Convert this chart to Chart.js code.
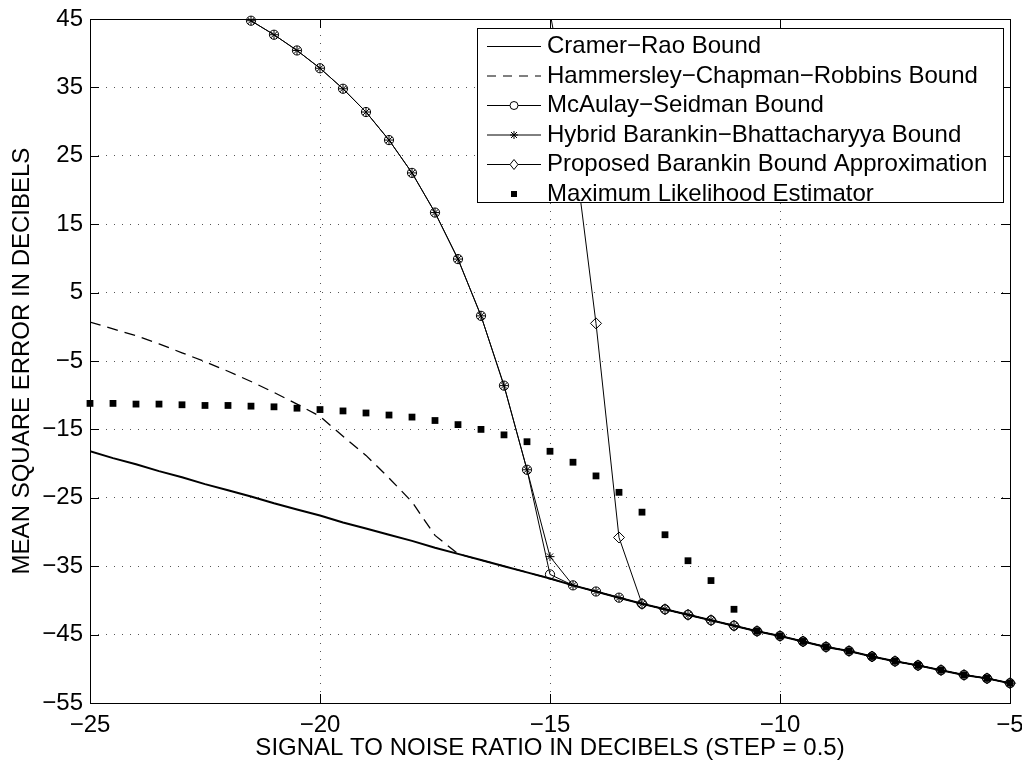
<!DOCTYPE html>
<html>
<head>
  <meta charset="utf-8">
  <title>Mean square error bounds</title>
  <script src="https://cdn.jsdelivr.net/npm/chart.js"></script>
  <style>
    body { margin: 0; background: #fff; }
  </style>
</head>
<body>
  <canvas id="chart" width="1022" height="767"></canvas>

  <script>
    // SNR in dB, step 0.5
    const snr = [-25, -24.5, -24, -23.5, -23, -22.5, -22, -21.5, -21, -20.5,
                 -20, -19.5, -19, -18.5, -18, -17.5, -17, -16.5, -16, -15.5,
                 -15, -14.5, -14, -13.5, -13, -12.5, -12, -11.5, -11, -10.5,
                 -10, -9.5, -9, -8.5, -8, -7.5, -7, -6.5, -6, -5.5, -5];

    const crb = [-18.2, -19.2, -20.1, -21.1, -22.0, -23.0, -23.9, -24.8, -25.8, -26.7,
                 -27.6, -28.6, -29.5, -30.4, -31.3, -32.3, -33.2, -34.1, -35.0, -35.9,
                 -36.8, -37.8, -38.7, -39.6, -40.5, -41.3, -42.1, -42.9, -43.7, -44.5,
                 -45.2, -46.0, -46.8, -47.4, -48.2, -48.9, -49.5, -50.2, -50.9, -51.4, -52.1];

    const hcrb = [0.7, -0.3, -1.3, -2.5, -3.8, -5.1, -6.5, -8.0, -9.6, -11.3,
                  -13.1, -16.0, -18.8, -22.1, -25.6, -30.5, -33.2, -34.1, -35.0, -35.9,
                  -36.8, -37.8, -38.7, -39.6, -40.5, -41.3, -42.1, -42.9, -43.7, -44.5,
                  -45.2, -46.0, -46.8, -47.4, -48.2, -48.9, -49.5, -50.2, -50.9, -51.4, -52.1];

    const msb = [null, null, null, null, null, null, null, 44.75, 42.7, 40.4,
                 37.8, 34.8, 31.4, 27.3, 22.5, 16.7, 9.9, 1.6, -8.6, -20.9,
                 -36.2, -37.8, -38.7, -39.6, -40.5, -41.3, -42.1, -42.9, -43.7, -44.5,
                 -45.2, -46.0, -46.8, -47.4, -48.2, -48.9, -49.5, -50.2, -50.9, -51.4, -52.1];

    const hbb = [null, null, null, null, null, null, null, 44.75, 42.7, 40.4,
                 37.8, 34.8, 31.4, 27.3, 22.5, 16.7, 9.9, 1.6, -8.6, -20.9,
                 -33.6, -37.8, -38.7, -39.6, -40.5, -41.3, -42.1, -42.9, -43.7, -44.5,
                 -45.2, -46.0, -46.8, -47.4, -48.2, -48.9, -49.5, -50.2, -50.9, -51.4, -52.1];

    const pba = [null, null, null, null, null, null, null, null, null, null,
                 null, null, null, null, null, null, null, null, null, null,
                 46, 27.3, 0.5, -30.8, -40.5, -41.3, -42.1, -42.9, -43.7, -44.5,
                 -45.2, -46.0, -46.8, -47.4, -48.2, -48.9, -49.5, -50.2, -50.9, -51.4, -52.1];

    const mle = [-11.2, -11.2, -11.3, -11.3, -11.4, -11.5, -11.5, -11.6, -11.7, -11.9,
                 -12.1, -12.3, -12.6, -12.9, -13.2, -13.7, -14.3, -15.0, -15.8, -16.8,
                 -18.2, -19.8, -21.8, -24.2, -27.1, -30.4, -34.2, -37.1, -41.3, -44.5,
                 -45.2, -46.0, -46.8, -47.4, -48.2, -48.9, -49.5, -50.2, -50.9, -51.4, -52.1];

    const labels = [
      'Cramer\u2212Rao Bound',
      'Hammersley\u2212Chapman\u2212Robbins Bound',
      'McAulay\u2212Seidman Bound',
      'Hybrid Barankin\u2212Bhattacharyya Bound',
      'Proposed Barankin Bound Approximation',
      'Maximum Likelihood Estimator'
    ];

    const FONT = "'Liberation Sans', Arial, sans-serif";
    const pts = arr => snr.map((x, i) => ({ x: x, y: arr[i] }));
    const minus = v => (v < 0 ? '\u2212' + Math.abs(v) : '' + v);

    // MATLAB-like box with inward ticks, and a legend drawn over the data
    const matlabBox = {
      id: 'matlabBox',
      afterDatasetsDraw(chart) {
        const { ctx, chartArea: a, scales: { x, y } } = chart;
        ctx.save();
        ctx.strokeStyle = '#000';
        ctx.lineWidth = 1;
        ctx.setLineDash([]);
        ctx.beginPath();
        for (let v = -25; v <= -5; v += 5) {
          const px = Math.round(x.getPixelForValue(v)) + 0.5;
          ctx.moveTo(px, a.bottom); ctx.lineTo(px, a.bottom - 9);
          ctx.moveTo(px, a.top); ctx.lineTo(px, a.top + 9);
        }
        for (let v = -55; v <= 45; v += 10) {
          const py = Math.round(y.getPixelForValue(v)) + 0.5;
          ctx.moveTo(a.left, py); ctx.lineTo(a.left + 9, py);
          ctx.moveTo(a.right, py); ctx.lineTo(a.right - 9, py);
        }
        ctx.stroke();
        ctx.strokeRect(Math.round(a.left) + 0.5, Math.round(a.top) + 0.5,
                       Math.round(a.right - a.left), Math.round(a.bottom - a.top));

        // legend
        const lx = 477, ly = 28, lw = 526, lh = 174;
        ctx.fillStyle = '#fff';
        ctx.fillRect(lx, ly, lw, lh);
        ctx.strokeRect(lx + 0.5, ly + 0.5, lw, lh);
        ctx.font = '24px ' + FONT;
        ctx.textBaseline = 'middle';
        ctx.textAlign = 'left';
        for (let i = 0; i < labels.length; i++) {
          const ry = ly + 18 + i * 29.5 + 0.5;
          const x0 = 487, x1 = 541, xm = 514;
          ctx.strokeStyle = '#000';
          ctx.fillStyle = '#000';
          ctx.lineWidth = 1;
          if (i < 5) {
            ctx.setLineDash(i === 1 ? [9, 7] : []);
            ctx.beginPath();
            ctx.moveTo(x0, ry); ctx.lineTo(x1, ry);
            ctx.stroke();
            ctx.setLineDash([]);
          }
          if (i === 2) {
            ctx.fillStyle = '#fff';
            ctx.beginPath(); ctx.arc(xm, ry, 4, 0, Math.PI * 2); ctx.fill(); ctx.stroke();
          } else if (i === 3) {
            ctx.beginPath();
            ctx.moveTo(xm - 4, ry); ctx.lineTo(xm + 4, ry);
            ctx.moveTo(xm, ry - 4); ctx.lineTo(xm, ry + 4);
            ctx.moveTo(xm - 3, ry - 3); ctx.lineTo(xm + 3, ry + 3);
            ctx.moveTo(xm - 3, ry + 3); ctx.lineTo(xm + 3, ry - 3);
            ctx.stroke();
          } else if (i === 4) {
            ctx.fillStyle = '#fff';
            ctx.beginPath();
            ctx.moveTo(xm - 4, ry); ctx.lineTo(xm, ry - 5);
            ctx.lineTo(xm + 4, ry); ctx.lineTo(xm, ry + 5);
            ctx.closePath(); ctx.fill(); ctx.stroke();
          } else if (i === 5) {
            ctx.fillRect(xm - 3, ry - 3, 6, 6);
          }
          ctx.fillStyle = '#000';
          ctx.fillText(labels[i], 547, ry);
        }
        ctx.restore();
      }
    };

    Chart.defaults.font.family = FONT;
    Chart.defaults.font.size = 24;
    Chart.defaults.color = '#000';

    const noClip = false;

    new Chart(document.getElementById('chart'), {
      type: 'line',
      data: {
        datasets: [
          {
            label: labels[5], data: pts(mle), showLine: false, order: 0,
            pointStyle: 'rect', pointRadius: 4.8, pointBorderWidth: 0,
            pointBackgroundColor: '#000', borderColor: '#000', clip: noClip
          },
          {
            label: labels[4], data: pts(pba), order: 1,
            borderColor: '#000', borderWidth: 1, pointStyle: 'rectRot', pointRadius: 5.5,
            pointBorderWidth: 1, pointBackgroundColor: 'rgba(0,0,0,0)',
            clip: { left: 10, top: 0, right: 10, bottom: 10 }
          },
          {
            label: labels[3], data: pts(hbb), order: 2,
            borderColor: '#000', borderWidth: 1, pointStyle: 'star', pointRadius: 4.5,
            pointBorderWidth: 1, pointBackgroundColor: 'rgba(0,0,0,0)', clip: noClip
          },
          {
            label: labels[2], data: pts(msb), order: 3,
            borderColor: '#000', borderWidth: 1, pointStyle: 'circle', pointRadius: 4.6,
            pointBorderWidth: 1, pointBackgroundColor: 'rgba(0,0,0,0)', clip: noClip
          },
          {
            label: labels[1], data: pts(hcrb), order: 4,
            borderColor: '#000', borderWidth: 1.3, borderDash: [11, 7], pointRadius: 0
          },
          {
            label: labels[0], data: pts(crb), order: 5,
            borderColor: '#000', borderWidth: 2, pointRadius: 0
          }
        ]
      },
      options: {
        responsive: false,
        animation: false,
        layout: { padding: { top: 19, right: 12, left: 0, bottom: 0 } },
        elements: { line: { tension: 0 } },
        plugins: {
          legend: { display: false },
          tooltip: { enabled: false }
        },
        scales: {
          x: {
            type: 'linear', min: -25, max: -5,
            ticks: { stepSize: 5, padding: 8, callback: minus, maxRotation: 0 },
            grid: { color: '#555', lineWidth: 1, drawTicks: false },
            border: { display: false, dash: [1, 7] },
            title: {
              display: true, text: 'SIGNAL TO NOISE RATIO IN DECIBELS (STEP = 0.5)',
              padding: { top: 0, bottom: 4 }
            },
            afterFit(s) { s.height = 64; s.paddingLeft = 0; s.paddingRight = 0; }
          },
          y: {
            min: -55, max: 45,
            ticks: { stepSize: 10, padding: 7, callback: minus },
            grid: { color: '#555', lineWidth: 1, drawTicks: false },
            border: { display: false, dash: [1, 7] },
            title: {
              display: true, text: 'MEAN SQUARE ERROR IN DECIBELS',
              padding: { top: 8, bottom: 0 }
            },
            afterFit(s) { s.width = 90; s.paddingTop = 0; s.paddingBottom = 0; }
          }
        }
      },
      plugins: [matlabBox]
    });
  </script>
</body>
</html>
